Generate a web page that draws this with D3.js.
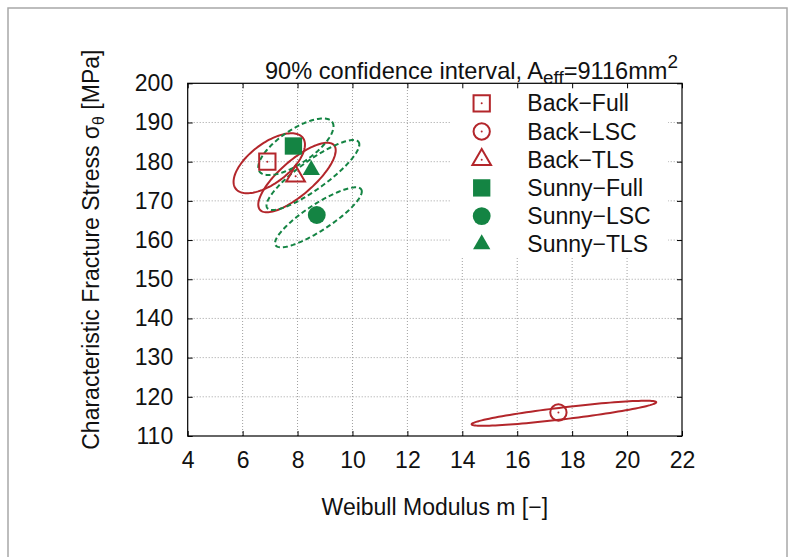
<!DOCTYPE html>
<html>
<head>
<meta charset="utf-8">
<script src="https://cdn.jsdelivr.net/npm/d3@7"></script>
<style>
  html, body { margin: 0; padding: 0; background: #fff; }
  svg { display: block; }
  text { font-family: "Liberation Sans", Arial, Helvetica, sans-serif; fill: #111; }
</style>
</head>
<body>
<svg id="chart" width="790" height="557"></svg>
<script>
// ---------------- data ----------------
const xTicks = [4, 6, 8, 10, 12, 14, 16, 18, 20, 22];
const yTicks = [110, 120, 130, 140, 150, 160, 170, 180, 190, 200];
const seriesNames = ["Back\u2212Full", "Back\u2212LSC", "Back\u2212TLS", "Sunny\u2212Full", "Sunny\u2212LSC", "Sunny\u2212TLS"];
const seriesGroup = ["Back", "Back", "Back", "Sunny", "Sunny", "Sunny"];
const seriesShape = ["square", "circle", "triangle", "square", "circle", "triangle"];
// Weibull modulus m and characteristic stress for each series
const seriesM = [6.9, 17.5, 7.93, 7.85, 8.7, 8.5];
const seriesSigma = [180.0, 116.0, 176.3, 184.0, 166.4, 177.9];
// 90% confidence ellipses: centre, half-extent in m, half-extent in sigma, correlation
const ellCenterM = [6.97, 17.70, 7.98, 7.94, 8.76, 8.56];
const ellCenterS = [179.6, 115.8, 175.96, 183.8, 165.8, 176.6];
const ellHalfM = [1.30, 3.36, 1.41, 1.37, 1.58, 1.69];
const ellHalfS = [7.65, 3.19, 8.88, 7.23, 7.66, 8.93];
const ellRho = [0.62, 0.88, 0.78, 0.72, 0.86, 0.87];

// ---------------- layout ----------------
const svg = d3.select("#chart");
const red = "#b3262b", green = "#148443";
const FS = 23;
const x = d3.scaleLinear().domain([4, 22]).range([187.7, 682]);
const y = d3.scaleLinear().domain([110, 200]).range([436, 83.3]);
const colorOf = g => g === "Back" ? red : green;

// outer frame
svg.append("rect").attr("x", 8).attr("y", 8).attr("width", 779).attr("height", 560)
  .attr("fill", "none").attr("stroke", "#a8a8a8").attr("stroke-width", 1.5);

// grid
const grid = svg.append("g");
grid.selectAll(".gx").data(xTicks.slice(1, -1)).enter().append("line")
  .attr("x1", d => x(d)).attr("x2", d => x(d)).attr("y1", y(110)).attr("y2", y(200))
  .attr("stroke", "#a0a0a0").attr("stroke-width", 1).attr("stroke-dasharray", "1,2");
grid.selectAll(".gy").data(yTicks.slice(1, -1)).enter().append("line")
  .attr("y1", d => y(d)).attr("y2", d => y(d)).attr("x1", x(4)).attr("x2", x(22))
  .attr("stroke", "#a0a0a0").attr("stroke-width", 1).attr("stroke-dasharray", "1,2");

// legend background (opaque)
svg.append("rect").attr("x", 450).attr("y", 84).attr("width", 218).attr("height", 174).attr("fill", "#fff");

// axes
function styleAxis(g) { g.select(".domain").remove(); g.selectAll("line").attr("stroke", "#000"); g.selectAll("text").attr("font-size", FS).attr("fill", "#111").attr("font-family", "Liberation Sans, Arial, sans-serif"); }
svg.append("g").attr("transform", `translate(0,${y(110)})`)
  .call(d3.axisBottom(x).tickValues(xTicks).tickSize(-5).tickPadding(16).tickFormat(d3.format("d"))).call(styleAxis);
svg.append("g").attr("transform", `translate(0,${y(200)})`)
  .call(d3.axisTop(x).tickValues(xTicks).tickSize(-5).tickFormat("")).call(styleAxis);
svg.append("g").attr("transform", `translate(${x(4)},0)`)
  .call(d3.axisLeft(y).tickValues(yTicks).tickSize(-5).tickPadding(14.5).tickFormat(d3.format("d"))).call(styleAxis);
svg.append("g").attr("transform", `translate(${x(22)},0)`)
  .call(d3.axisRight(y).tickValues(yTicks).tickSize(-5).tickFormat("")).call(styleAxis);

// frame
svg.append("rect").attr("x", x(4)).attr("y", y(200)).attr("width", x(22) - x(4)).attr("height", y(110) - y(200))
  .attr("fill", "none").attr("stroke", "#000").attr("stroke-width", 1.2);

// ellipses
const tSteps = d3.range(0, 361, 3).map(a => a * Math.PI / 180);
const line = d3.line().x(p => x(p[0])).y(p => y(p[1])).curve(d3.curveLinearClosed);
seriesNames.forEach((name, i) => {
  const r = ellRho[i], q = Math.sqrt(1 - r * r);
  const pts = tSteps.map(t => [ellCenterM[i] + ellHalfM[i] * Math.cos(t),
                               ellCenterS[i] + ellHalfS[i] * (r * Math.cos(t) + q * Math.sin(t))]);
  svg.append("path").attr("d", line(pts)).attr("fill", "none")
    .attr("stroke", colorOf(seriesGroup[i])).attr("stroke-width", 2)
    .attr("stroke-dasharray", seriesGroup[i] === "Sunny" ? "5,3" : null);
});

// markers
function drawMarker(g, shape, group, cx, cy) {
  const col = colorOf(group);
  const filled = group === "Sunny";
  let sym, size;
  if (shape === "square") { sym = d3.symbolSquare; size = filled ? 300 : 266; }
  else if (shape === "circle") { sym = d3.symbolCircle; size = filled ? 250 : 209; }
  else { sym = d3.symbolTriangle; size = filled ? 130 : 150; }
  g.append("path").attr("d", d3.symbol().type(sym).size(size)())
    .attr("transform", `translate(${cx},${cy})`)
    .attr("fill", filled ? col : "none").attr("stroke", filled ? "none" : col).attr("stroke-width", 2);
  if (!filled) g.append("circle").attr("cx", cx).attr("cy", cy).attr("r", 1).attr("fill", col);
}
seriesNames.forEach((name, i) => drawMarker(svg, seriesShape[i], seriesGroup[i], x(seriesM[i]), y(seriesSigma[i])));

// legend
const legY0 = 103.3, legDy = 28.2;
seriesNames.forEach((name, i) => {
  drawMarker(svg, seriesShape[i], seriesGroup[i], 481.7, legY0 + i * legDy);
  svg.append("text").attr("x", 527.3).attr("y", legY0 + i * legDy).attr("dy", "0.35em")
    .attr("font-size", FS).text(name);
});

// title
const title = svg.append("text").attr("x", 265).attr("y", 78.5).attr("font-size", 23.6);
title.append("tspan").text("90% confidence interval, A");
title.append("tspan").attr("font-size", 23.6 * 0.8).attr("dy", 5).text("eff");
title.append("tspan").attr("dy", -5).text("=9116mm");
title.append("tspan").attr("font-size", 23.6 * 0.8).attr("dy", -11).text("2");

// axis titles
svg.append("text").attr("x", x(13)).attr("y", 515).attr("text-anchor", "middle")
  .attr("font-size", FS).text("Weibull Modulus m [\u2212]");
const yt = svg.append("text").attr("transform", `translate(99,${(y(110) + y(200)) / 2 - 10}) rotate(-90)`)
  .attr("text-anchor", "middle").attr("font-size", FS);
yt.append("tspan").text("Characteristic Fracture Stress \u03c3");
yt.append("tspan").attr("font-size", FS * 0.7).attr("dy", 5).text("\u03b8");
yt.append("tspan").attr("dy", -5).text(" [MPa]");
</script>
</body>
</html>
